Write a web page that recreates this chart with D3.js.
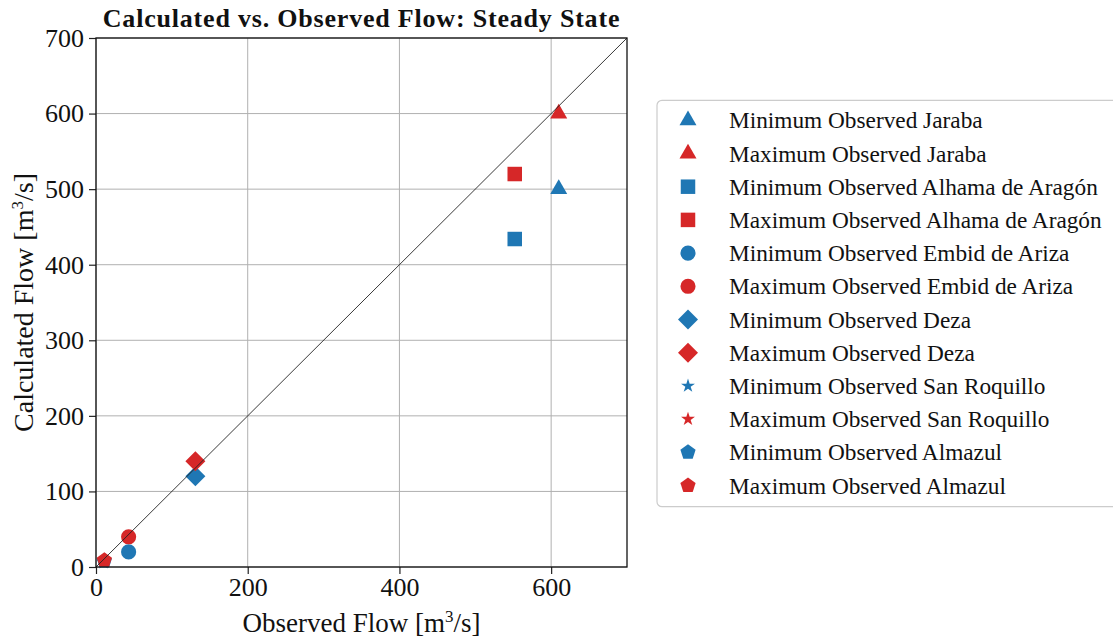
<!DOCTYPE html>
<html>
<head>
<meta charset="utf-8">
<script src="https://cdn.jsdelivr.net/npm/d3@7"></script>
<style>
  body { margin: 0; background: white; }
  text { font-family: "Liberation Serif", serif; fill: #111; }
</style>
</head>
<body>
<script>
const W = 1113, H = 642;

// data
const stations = ["Jaraba", "Alhama de Aragón", "Embid de Ariza", "Deza", "San Roquillo", "Almazul"];
const symbols = ["triangle", "square", "circle", "diamond", "star", "pentagon"];
const observedFlow = [610, 552, 43, 131, 10, 11];
const calculatedMin = [500, 434, 20, 120, 6, 8];
const calculatedMax = [600, 520, 40, 140, 8, 9];
const ticks = [0, 200, 400, 600];
const yTicks = [0, 100, 200, 300, 400, 500, 600, 700];

const minColor = "#1f77b4", maxColor = "#d62728";

const margin = {left: 96, top: 38, right: 486, bottom: 75};
const pw = W - margin.left - margin.right;   // 531
const ph = H - margin.top - margin.bottom;   // 529

const svg = d3.select("body").append("svg")
  .attr("width", W).attr("height", H);

const x = d3.scaleLinear().domain([0, 700]).range([0, pw]);
const y = d3.scaleLinear().domain([0, 700]).range([ph, 0]);

const g = svg.append("g").attr("transform", `translate(${margin.left},${margin.top})`);

// grid
g.append("g").selectAll("line").data(ticks).enter().append("line")
  .attr("x1", d => x(d)).attr("x2", d => x(d)).attr("y1", 0).attr("y2", ph)
  .attr("stroke", "#b0b0b0").attr("stroke-width", 1);
g.append("g").selectAll("line").data(yTicks).enter().append("line")
  .attr("x1", 0).attr("x2", pw).attr("y1", d => y(d)).attr("y2", d => y(d))
  .attr("stroke", "#b0b0b0").attr("stroke-width", 1);

// axes
const xAxis = g.append("g").attr("transform", `translate(0,${ph})`)
  .call(d3.axisBottom(x).tickValues(ticks).tickSize(7).tickPadding(4).tickFormat(d3.format("d")));
const yAxis = g.append("g")
  .call(d3.axisLeft(y).tickValues(yTicks).tickSize(7).tickPadding(5).tickFormat(d3.format("d")));
[xAxis, yAxis].forEach(a => {
  a.select(".domain").remove();
  a.selectAll("line").attr("stroke", "#222").attr("stroke-width", 1.2);
  a.selectAll("text").style("font-family", "Liberation Serif").style("font-size", "26px").attr("fill", "#111");
});

// symbol paths
function pentagon(r) {
  let pts = [];
  for (let i = 0; i < 5; i++) {
    const a = -Math.PI / 2 + i * 2 * Math.PI / 5;
    pts.push([r * Math.cos(a), r * Math.sin(a)]);
  }
  return "M" + pts.map(p => p.join(",")).join("L") + "Z";
}
function markerPath(kind) {
  if (kind === "triangle") return d3.symbol(d3.symbolTriangle, 125)();
  if (kind === "square") return d3.symbol(d3.symbolSquare, 210)();
  if (kind === "circle") return d3.symbol(d3.symbolCircle, 180)();
  if (kind === "diamond") return d3.symbol(d3.symbolSquare, 200)();
  if (kind === "star") return d3.symbol(d3.symbolStar, 60)();
  return pentagon(8);
}
function rot(kind) { return kind === "diamond" ? " rotate(45)" : ""; }

// scatter points, min then max for each station
const pts = [];
stations.forEach((s, i) => {
  pts.push({kind: symbols[i], x: observedFlow[i], y: calculatedMin[i], c: minColor});
  pts.push({kind: symbols[i], x: observedFlow[i], y: calculatedMax[i], c: maxColor});
});
g.append("g").selectAll("path").data(pts).enter().append("path")
  .attr("d", d => markerPath(d.kind))
  .attr("transform", d => `translate(${x(d.x)},${y(d.y)})` + rot(d.kind))
  .attr("fill", d => d.c);

// 1:1 line
g.append("line")
  .attr("x1", x(0)).attr("y1", y(0)).attr("x2", x(700)).attr("y2", y(700))
  .attr("stroke", "#222").attr("stroke-width", 0.9);

// frame
g.append("rect").attr("width", pw).attr("height", ph)
  .attr("fill", "none").attr("stroke", "#111").attr("stroke-width", 1.3);

// title + labels
svg.append("text").attr("x", margin.left + pw / 2).attr("y", 27)
  .attr("text-anchor", "middle").style("font-size", "26px").style("font-weight", "bold")
  .style("letter-spacing", "0.8px")
  .text("Calculated vs. Observed Flow: Steady State");

const xl = svg.append("text").attr("x", margin.left + pw / 2).attr("y", 632)
  .attr("text-anchor", "middle").style("font-size", "27px");
xl.append("tspan").text("Observed Flow [m");
xl.append("tspan").attr("dy", -10).style("font-size", "17px").text("3");
xl.append("tspan").attr("dy", 10).text("/s]");

const yl = svg.append("text")
  .attr("transform", `translate(33,${margin.top + ph / 2}) rotate(-90)`)
  .attr("text-anchor", "middle").style("font-size", "28px");
yl.append("tspan").text("Calculated Flow [m");
yl.append("tspan").attr("dy", -10).style("font-size", "17px").text("3");
yl.append("tspan").attr("dy", 10).text("/s]");

// legend
const legendItems = [];
stations.forEach((s, i) => {
  legendItems.push({kind: symbols[i], c: minColor, label: "Minimum Observed " + s});
  legendItems.push({kind: symbols[i], c: maxColor, label: "Maximum Observed " + s});
});
const rowH = 33.2;
const legTop = margin.top + ph / 2 - rowH * 6 - 3;
const legend = svg.append("g").attr("transform", `translate(657,${legTop})`);
legend.append("rect").attr("width", 480).attr("height", rowH * 12 + 8).attr("rx", 5)
  .attr("fill", "white").attr("stroke", "#cccccc").attr("stroke-width", 1.2);
const rows = legend.selectAll("g.row").data(legendItems).enter().append("g")
  .attr("transform", (d, i) => `translate(0,${20 + i * rowH})`);
rows.append("path")
  .attr("d", d => markerPath(d.kind))
  .attr("transform", d => "translate(31,0)" + rot(d.kind))
  .attr("fill", d => d.c);
rows.append("text").attr("x", 72).attr("y", 8)
  .style("font-size", "23.3px").text(d => d.label);
</script>
</body>
</html>
